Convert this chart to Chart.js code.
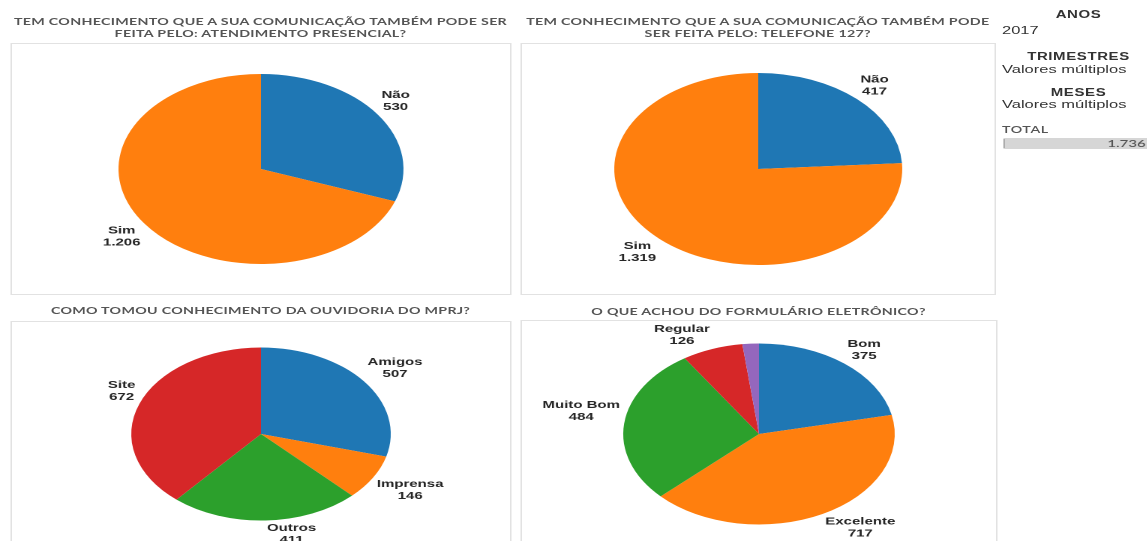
<!DOCTYPE html>
<html lang="pt-BR">
<head>
<meta charset="utf-8">
<title>Ouvidoria MPRJ 2017</title>
<script src="https://cdn.jsdelivr.net/npm/chart.js@4.4.1/dist/chart.umd.min.js"></script>
<style>
  html, body { margin: 0; padding: 0; background: #fff; overflow: hidden; }
  body { width: 1147px; height: 541px; }
  /* the dashboard is laid out narrow and stretched 1.5x, like the original screenshot */
  #board { position: absolute; left: 0; top: 0; width: 765px; height: 541px;
           transform: scaleX(1.5); transform-origin: 0 0; }
  .title { position: absolute; text-align: center; font-family: Lato, "Open Sans", sans-serif; white-space: nowrap;
           font-weight: 700; font-size: 9.5px; line-height: 11.7px; letter-spacing: 0.2px; color: #555; }
  .panel { position: absolute; border: 1px solid #e2e2e2; box-sizing: border-box; }
  .pie { position: absolute; left: 0; width: 100%; }
  .side { position: absolute; font-family: "Liberation Sans", Arial, sans-serif; color: #333; white-space: nowrap; }
  .side.h { font-weight: 700; font-size: 10px; line-height: 12px; letter-spacing: 0.4px; text-align: center; width: 100px; left: 669px; }
  .side.v { font-size: 11px; line-height: 13px; left: 668px; }
  #totalLbl { position: absolute; left: 668px; top: 124px; font-family: Lato, sans-serif; font-size: 9.5px;
              line-height: 11px; letter-spacing: 0.4px; color: #555; font-weight: 600; }
  #totalBox { position: absolute; left: 668.7px; top: 138px; width: 96.3px; height: 11px; }
</style>
</head>
<body>
<div id="board">
  <div class="title" style="left:6.7px; width:334px; top:16px;">TEM CONHECIMENTO QUE A SUA COMUNICAÇÃO TAMBÉM PODE SER<br>FEITA PELO: ATENDIMENTO PRESENCIAL?</div>
  <div class="title" style="left:346.7px; width:317px; top:16px;">TEM CONHECIMENTO QUE A SUA COMUNICAÇÃO TAMBÉM PODE<br>SER FEITA PELO: TELEFONE 127?</div>
  <div class="title" style="left:6.7px; width:334px; top:305px;">COMO TOMOU CONHECIMENTO DA OUVIDORIA DO MPRJ?</div>
  <div class="title" style="left:346.7px; width:318px; top:306px;">O QUE ACHOU DO FORMULÁRIO ELETRÔNICO?</div>

  <div class="panel" style="left:6.7px; top:43px; width:334px; height:252px;"></div>
  <div class="panel" style="left:346.7px; top:43px; width:317px; height:252px;"></div>
  <div class="panel" style="left:6.7px; top:321px; width:334px; height:240px;"></div>
  <div class="panel" style="left:347px; top:320px; width:318px; height:240px;"></div>

  <div class="pie" style="left:6.7px; width:334px; top:44px; height:250px;"><canvas id="pie1"></canvas></div>
  <div class="pie" style="left:346.7px; width:317px; top:44px; height:250px;"><canvas id="pie2"></canvas></div>
  <div class="pie" style="left:6.7px; width:334px; top:310px; height:236px;"><canvas id="pie3"></canvas></div>
  <div class="pie" style="left:347px; width:318px; top:309px; height:238px;"><canvas id="pie4"></canvas></div>

  <div class="side h" style="top:9px;">ANOS</div>
  <div class="side v" style="top:24px;">2017</div>
  <div class="side h" style="top:50.5px;">TRIMESTRES</div>
  <div class="side v" style="top:63px;">Valores múltiplos</div>
  <div class="side h" style="top:86.5px;">MESES</div>
  <div class="side v" style="top:98px;">Valores múltiplos</div>
  <div id="totalLbl">TOTAL</div>
  <div id="totalBox"><canvas id="total"></canvas></div>
</div>

<script>
// --- data ---
const presencialLabels = ['Não', 'Sim']
const presencialValues = [530, 1206]

const telefoneLabels = ['Não', 'Sim']
const telefoneValues = [417, 1319]

const ouvidoriaLabels = ['Amigos', 'Imprensa', 'Outros', 'Site']
const ouvidoriaValues = [507, 146, 411, 672]

const formularioLabels = ['Bom', 'Excelente', 'Muito Bom', 'Regular', 'Ruim']
const formularioValues = [375, 717, 484, 126, 34]
const formularioHidden = ['Ruim']   // slice drawn but not labelled

const totalLabels = ['TOTAL']
const totalValues = [1736]

const sliceColors = ['#1f77b4', '#ff7f0e', '#2ca02c', '#d62728', '#9467bd']

// 1206 -> "1.206"
const fmt = n => String(n).replace(/\B(?=(\d{3})+(?!\d))/g, '.')

// --- labels outside each slice: the box corner sits at the slice's mid point on the rim ---
const sliceLabels = {
  id: 'sliceLabels',
  afterDatasetsDraw(chart, args, opts) {
    const ctx = chart.ctx
    const meta = chart.getDatasetMeta(0)
    const values = chart.data.datasets[0].data
    const hidden = opts.hidden || []
    ctx.save()
    ctx.font = 'bold 10px "Liberation Sans", Arial, sans-serif'
    ctx.fillStyle = '#262626'
    ctx.textAlign = 'center'
    ctx.textBaseline = 'middle'
    meta.data.forEach((arc, i) => {
      const name = chart.data.labels[i]
      if (hidden.includes(name)) return
      const p = arc.getProps(['x', 'y', 'startAngle', 'endAngle', 'outerRadius'], true)
      const a = (p.startAngle + p.endAngle) / 2
      const lines = [name, fmt(values[i])]
      const w = Math.max(...lines.map(t => ctx.measureText(t).width))
      const r = p.outerRadius * 1.02
      const px = p.x + Math.cos(a) * r
      const py = p.y + Math.sin(a) * r
      const cx = px + Math.sign(Math.cos(a)) * (w / 2 + 1)
      const cy = py + Math.sign(Math.sin(a)) * 12
      ctx.fillText(lines[0], cx, cy - 6)
      ctx.fillText(lines[1], cx, cy + 6)
    })
    ctx.restore()
  },
}

function pie(id, labels, values, padTop, padBottom, hidden) {
  new Chart(document.getElementById(id), {
    type: 'pie',
    data: {
      labels,
      datasets: [{ data: values, backgroundColor: sliceColors.slice(0, values.length), borderWidth: 0 }],
    },
    options: {
      responsive: true,
      maintainAspectRatio: false,
      animation: false,
      devicePixelRatio: 2,
      layout: { padding: { top: padTop, bottom: padBottom } },
      plugins: {
        legend: { display: false },
        tooltip: { enabled: false },
        sliceLabels: { hidden: hidden || [] },
      },
    },
    plugins: [sliceLabels],
  })
}

pie('pie1', presencialLabels, presencialValues, 30, 30)
pie('pie2', telefoneLabels, telefoneValues, 29, 29)
pie('pie3', ouvidoriaLabels, ouvidoriaValues, 37.5, 25.5)
pie('pie4', formularioLabels, formularioValues, 34.5, 22.5, formularioHidden)

// --- total bar in the side panel ---
const totalText = {
  id: 'totalText',
  afterDatasetsDraw(chart) {
    const ctx = chart.ctx
    const { left, right, top, bottom } = chart.chartArea
    ctx.save()
    ctx.fillStyle = '#999'
    ctx.fillRect(left, top + 1, 0.8, bottom - top - 2)
    ctx.font = '600 10px Lato, sans-serif'
    ctx.fillStyle = '#555'
    ctx.textAlign = 'right'
    ctx.textBaseline = 'middle'
    ctx.fillText(fmt(totalValues[0]), right - 1.5, (top + bottom) / 2 + 0.5)
    ctx.restore()
  },
}

new Chart(document.getElementById('total'), {
  type: 'bar',
  data: {
    labels: totalLabels,
    datasets: [{ data: totalValues, backgroundColor: '#d6d6d6', categoryPercentage: 1, barPercentage: 1 }],
  },
  options: {
    indexAxis: 'y',
    responsive: true,
    maintainAspectRatio: false,
    animation: false,
    devicePixelRatio: 2,
    layout: { padding: 0 },
    scales: {
      x: { display: false, min: 0, max: totalValues[0] },
      y: { display: false },
    },
    plugins: { legend: { display: false }, tooltip: { enabled: false } },
  },
  plugins: [totalText],
})
</script>
</body>
</html>
